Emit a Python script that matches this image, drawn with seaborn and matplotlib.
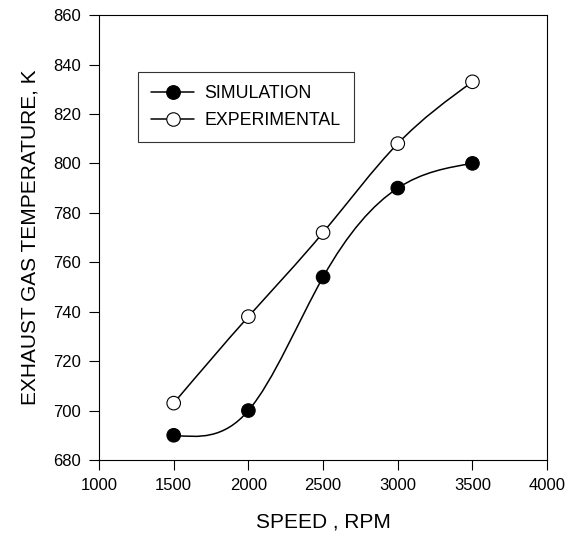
import numpy as np
import pandas as pd
import matplotlib
matplotlib.use('Agg')
import matplotlib.pyplot as plt
import seaborn as sns
from matplotlib.path import Path
from matplotlib.patches import PathPatch
from matplotlib.lines import Line2D

# data
speed = [1500, 2000, 2500, 3000, 3500]
simulation = [690, 700, 754, 790, 800]
experimental = [703, 738, 772, 808, 833]
series_names = ['SIMULATION', 'EXPERIMENTAL']

df = pd.DataFrame({
    'speed': speed * 2,
    'temp': simulation + experimental,
    'series': [series_names[0]] * len(speed) + [series_names[1]] * len(speed),
})


def spline_path(x, y):
    # natural cubic spline drawn as bezier segments (line style only)
    x = np.asarray(x, float)
    y = np.asarray(y, float)
    n = len(x)
    h = np.diff(x)
    A = np.zeros((n, n))
    b = np.zeros(n)
    A[0, 0] = A[-1, -1] = 1
    for i in range(1, n - 1):
        A[i, i - 1] = h[i - 1]
        A[i, i] = 2 * (h[i - 1] + h[i])
        A[i, i + 1] = h[i]
        b[i] = 6 * ((y[i + 1] - y[i]) / h[i] - (y[i] - y[i - 1]) / h[i - 1])
    M = np.linalg.solve(A, b)
    slopes = np.zeros(n)
    for i in range(n - 1):
        slopes[i] = (y[i + 1] - y[i]) / h[i] - h[i] * (2 * M[i] + M[i + 1]) / 6
    slopes[-1] = (y[-1] - y[-2]) / h[-1] + h[-1] * (M[-2] + 2 * M[-1]) / 6
    verts = [(x[0], y[0])]
    codes = [Path.MOVETO]
    for i in range(n - 1):
        verts += [(x[i] + h[i] / 3, y[i] + h[i] * slopes[i] / 3),
                  (x[i + 1] - h[i] / 3, y[i + 1] - h[i] * slopes[i + 1] / 3),
                  (x[i + 1], y[i + 1])]
        codes += [Path.CURVE4] * 3
    return Path(verts, codes)


sns.set_style('ticks')
plt.rcParams['font.family'] = ['Liberation Sans', 'DejaVu Sans']
plt.rcParams['text.color'] = 'black'
plt.rcParams['axes.labelcolor'] = 'black'
plt.rcParams['xtick.color'] = 'black'
plt.rcParams['ytick.color'] = 'black'

fig = plt.figure(figsize=(5.79, 5.38), dpi=100)
ax = fig.add_axes([0.171, 0.145, 0.774, 0.827])

for vals in [simulation, experimental]:
    ax.add_patch(PathPatch(spline_path(speed, vals), facecolor='none',
                           edgecolor='black', lw=1.1, zorder=2))

sns.scatterplot(data=df, x='speed', y='temp', hue='series', style='series',
                palette={'SIMULATION': 'black', 'EXPERIMENTAL': 'white'},
                markers={'SIMULATION': 'o', 'EXPERIMENTAL': 'o'},
                s=95, edgecolor='black', linewidth=0.8, legend=False,
                zorder=3, ax=ax)

ax.set_xlim(1000, 4000)
ax.set_ylim(680, 860)
ax.set_xticks(range(1000, 4001, 500))
ax.set_yticks(range(680, 861, 20))
ax.set_xlabel('SPEED , RPM', fontsize=15, labelpad=14)
ax.set_ylabel('EXHAUST GAS TEMPERATURE, K', fontsize=15, labelpad=10)
ax.tick_params(axis='both', labelsize=12, length=7, width=0.8, pad=6,
               direction='out', top=False, right=False, colors='black')
for sp in ax.spines.values():
    sp.set_visible(True)
    sp.set_linewidth(0.8)
    sp.set_color('black')

handles = [
    Line2D([], [], color='black', lw=1.1, marker='o', markersize=9.7,
           markerfacecolor='black', markeredgecolor='black'),
    Line2D([], [], color='black', lw=1.1, marker='o', markersize=9.7,
           markerfacecolor='white', markeredgecolor='black', markeredgewidth=0.8),
]
leg = ax.legend(handles, series_names, loc='upper left',
                bbox_to_anchor=(0.087, 0.872), borderaxespad=0,
                fontsize=12.8, frameon=True, fancybox=False, handlelength=2.4,
                handletextpad=0.6, labelspacing=0.53, borderpad=0.75)
leg.get_frame().set_edgecolor('black')
leg.get_frame().set_linewidth(0.8)

fig.savefig('out.png', dpi=100)
